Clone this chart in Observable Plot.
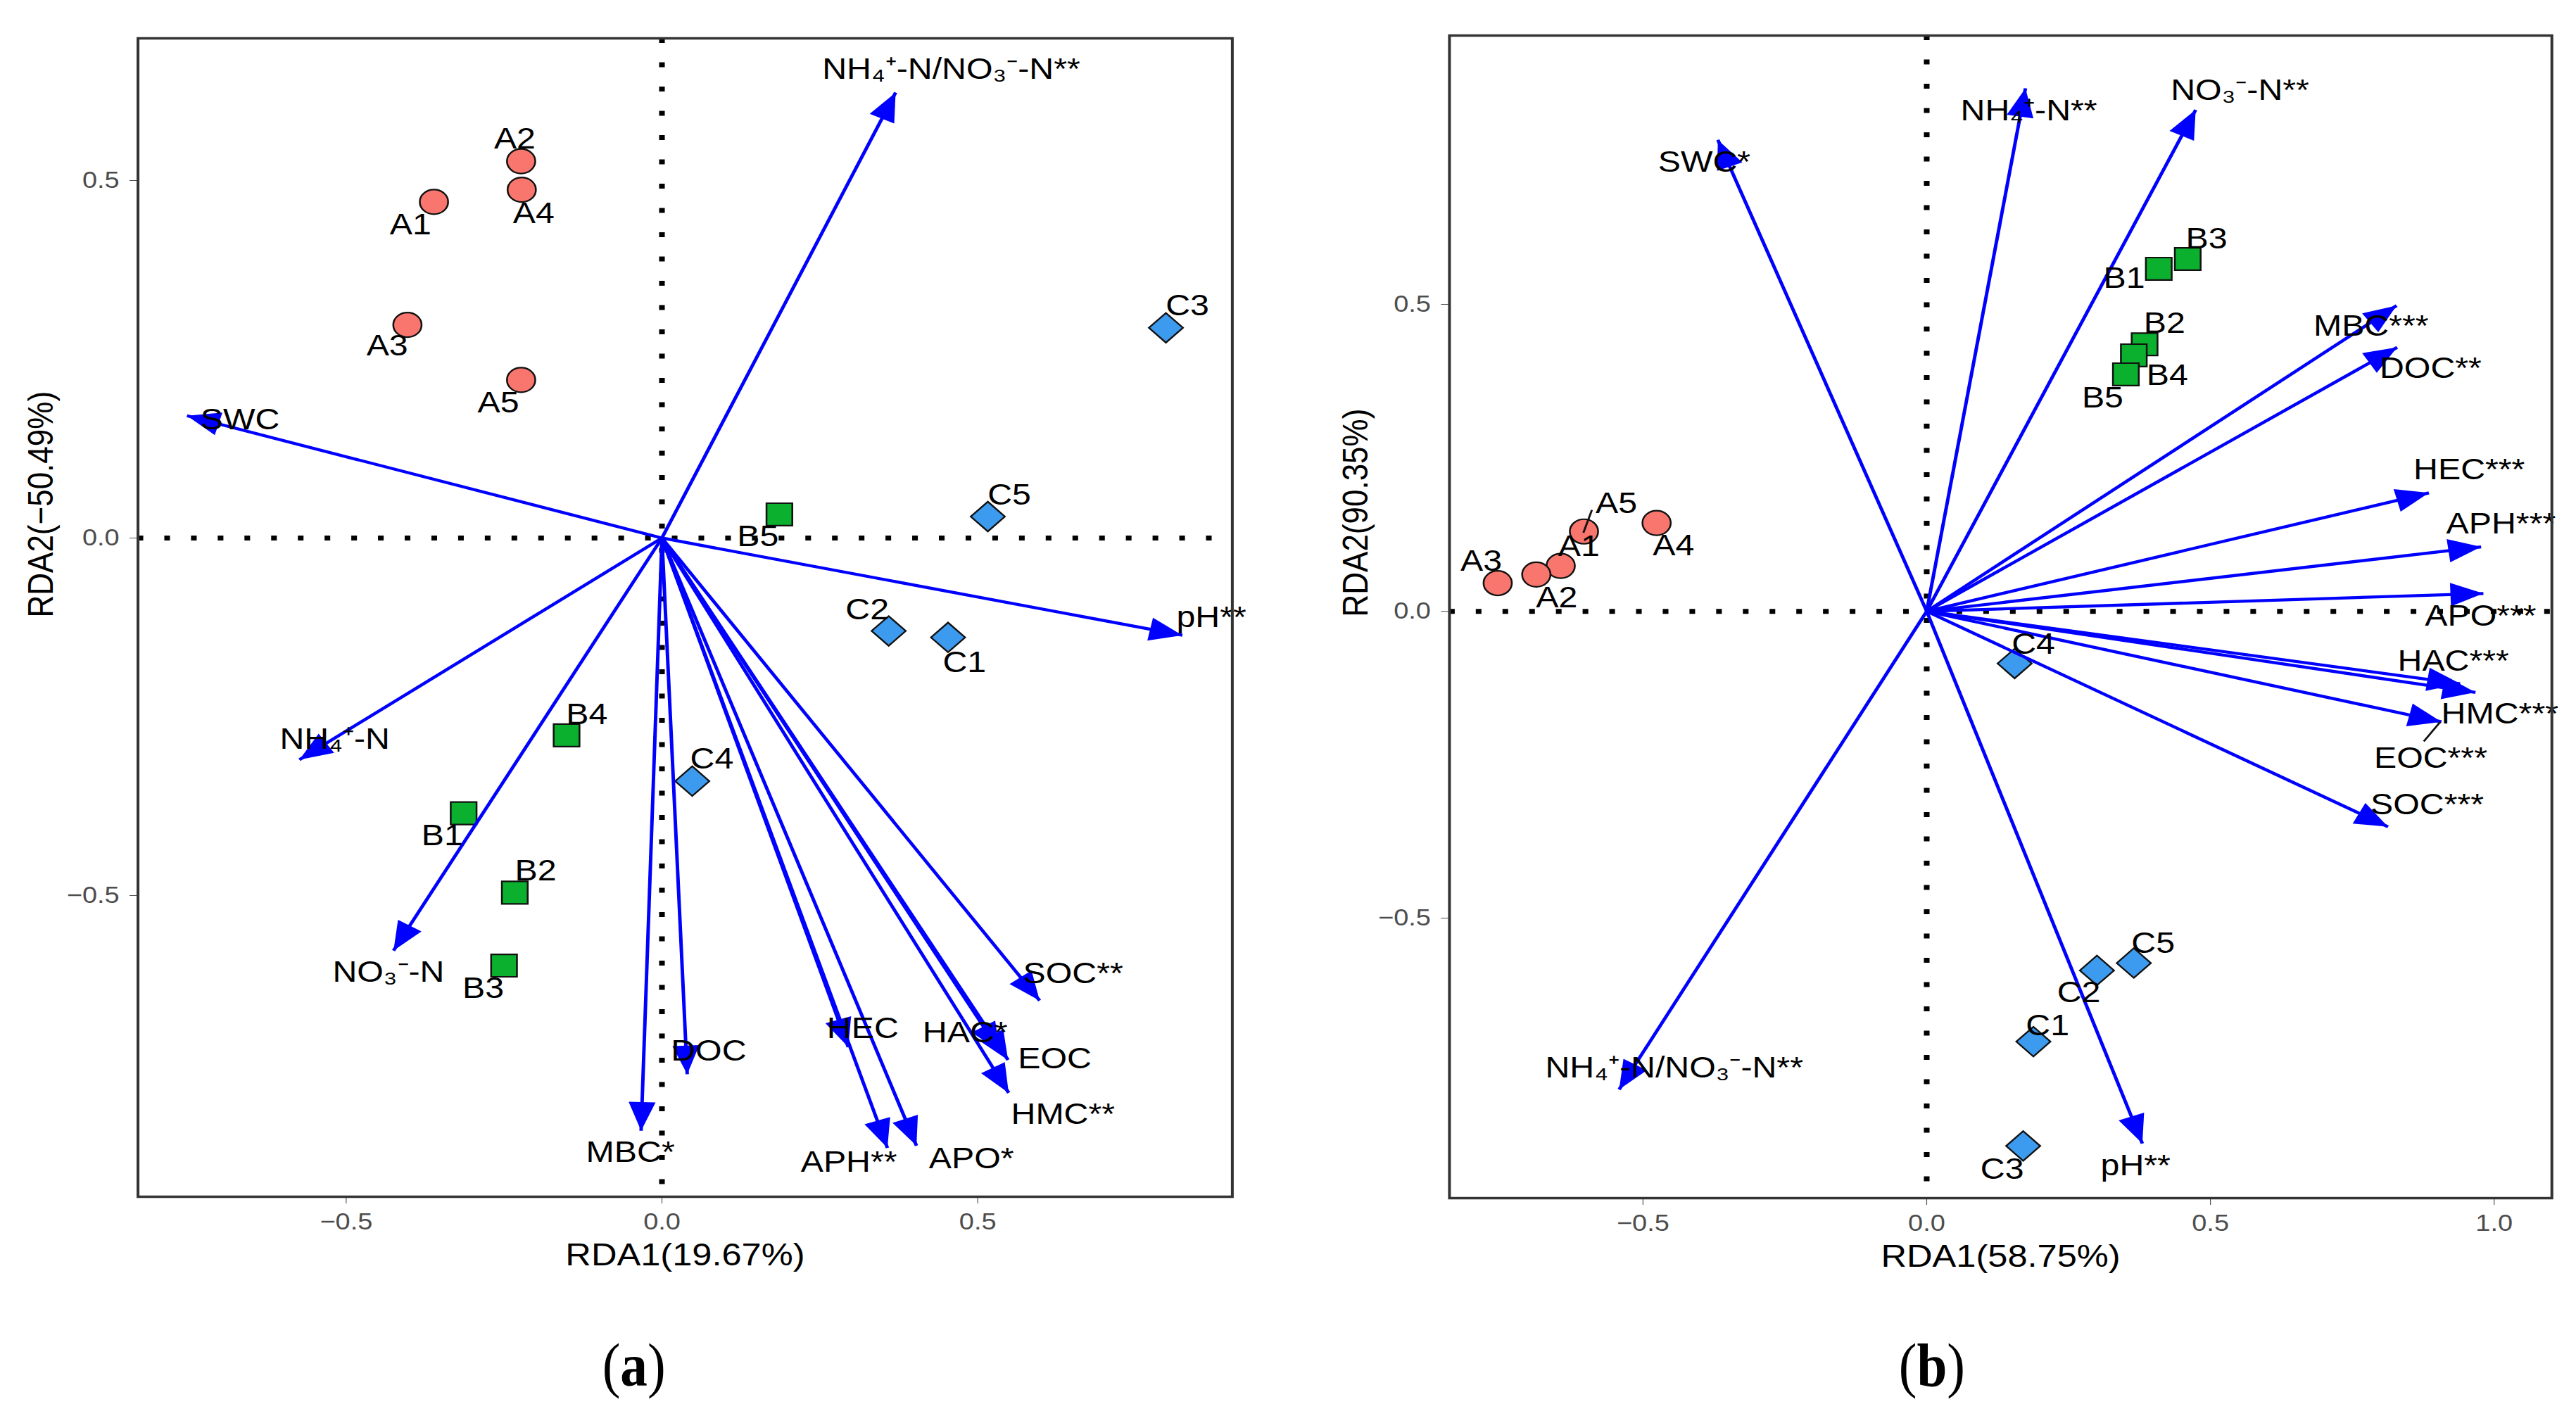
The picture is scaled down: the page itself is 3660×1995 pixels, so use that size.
<!DOCTYPE html>
<html>
<head>
<meta charset="utf-8">
<script src="https://cdn.jsdelivr.net/npm/d3@7"></script>
<script src="https://cdn.jsdelivr.net/npm/@observablehq/plot@0.6"></script>
<style>
html, body { margin: 0; padding: 0; background: #fff; }
#wrap { position: relative; width: 3660px; height: 1995px; overflow: hidden; background: #fff; }
.panel { position: absolute; top: 0; width: 1591px; height: 1995px; transform: scaleX(1.15); transform-origin: 0 0; }
.cap { position: absolute; top: 1897px; width: 300px; text-align: center; font-family: "Liberation Serif", "Times New Roman", serif; font-size: 86px; line-height: 86px; color: #000; }
.cap span { display: inline-block; transform: scaleX(0.78); }
</style>
</head>
<body>
<div id="wrap">
  <div class="panel" id="pa"><div class="cap" style="left:633px"><span>(<b>a</b>)</span></div></div>
  <div class="panel" id="pb" style="left:1830px"><div class="cap" style="left:646px"><span>(<b>b</b>)</span></div></div>
</div>
<script>
// ---------------- Panel (a) data ----------------
const sitesA = ["A1","A2","A3","A4","A5","B1","B2","B3","B4","B5","C1","C2","C3","C4","C5"];
const rda1A  = [-0.361,-0.223,-0.403,-0.222,-0.223,-0.314,-0.233,-0.250,-0.151,0.186,0.453,0.359,0.798,0.048,0.516];
const rda2A  = [0.470,0.527,0.298,0.487,0.221,-0.385,-0.496,-0.598,-0.276,0.033,-0.139,-0.130,0.294,-0.340,0.030];
const siteLabX_A = [-0.398,-0.233,-0.435,-0.203,-0.259,-0.348,-0.200,-0.283,-0.119,0.152,0.479,0.325,0.832,0.079,0.550];
const siteLabY_A = [0.438,0.558,0.269,0.454,0.189,-0.416,-0.466,-0.630,-0.247,0.002,-0.174,-0.100,0.325,-0.309,0.060];

const envA  = ["NH₄⁺-N/NO₃⁻-N**","SWC","pH**","NH₄⁺-N","NO₃⁻-N","MBC*","DOC","HEC","APH**","APO*","HAC*","EOC","HMC**","SOC**"];
const envA1 = [0.370,-0.752,0.824,-0.574,-0.425,-0.033,0.040,0.295,0.357,0.403,0.535,0.548,0.549,0.598];
const envA2 = [0.623,0.171,-0.136,-0.310,-0.577,-0.829,-0.750,-0.712,-0.853,-0.850,-0.718,-0.730,-0.776,-0.647];
const envLabX_A = [0.458,-0.668,0.870,-0.518,-0.433,-0.050,0.074,0.318,0.296,0.490,0.480,0.622,0.635,0.651];
const envLabY_A = [0.655,0.165,-0.111,-0.282,-0.607,-0.859,-0.718,-0.686,-0.873,-0.868,-0.692,-0.728,-0.806,-0.609];

// ---------------- Panel (b) data ----------------
const sitesB = ["A1","A2","A3","A4","A5","B1","B2","B3","B4","B5","C1","C2","C3","C4","C5"];
const rda1B  = [-0.645,-0.688,-0.756,-0.476,-0.604,0.409,0.384,0.460,0.365,0.351,0.188,0.300,0.170,0.155,0.365];
const rda2B  = [0.074,0.060,0.046,0.144,0.130,0.558,0.435,0.574,0.417,0.386,-0.701,-0.585,-0.871,-0.085,-0.573];
const siteLabX_B = [-0.613,-0.652,-0.785,-0.446,-0.547,0.348,0.419,0.493,0.424,0.310,0.213,0.268,0.133,0.188,0.399];
const siteLabY_B = [0.106,0.022,0.081,0.107,0.175,0.542,0.469,0.607,0.384,0.347,-0.675,-0.621,-0.909,-0.054,-0.541];

const envB  = ["SWC*","NH₄⁺-N**","NO₃⁻-N**","MBC***","DOC**","HEC***","APH***","APO***","HAC***","HMC***","EOC***","SOC***","pH**","NH₄⁺-N/NO₃⁻-N**"];
const envB1 = [-0.368,0.174,0.474,0.828,0.829,0.885,0.977,0.981,0.940,0.967,0.907,0.813,0.380,-0.542];
const envB2 = [0.768,0.852,0.817,0.498,0.430,0.193,0.105,0.029,-0.118,-0.132,-0.180,-0.351,-0.867,-0.779];
const envLabX_B = [-0.392,0.180,0.552,0.783,0.888,0.956,1.012,0.976,0.928,1.010,0.888,0.882,0.368,-0.445];
const envLabY_B = [0.731,0.815,0.849,0.464,0.396,0.230,0.142,-0.008,-0.081,-0.167,-0.240,-0.315,-0.903,-0.744];

// label leader segments (ggrepel) in panel (b)
const segB_x1 = [-0.605, 0.876];
const segB_y1 = [0.128, -0.212];
const segB_x2 = [-0.590, 0.905];
const segB_y2 = [0.165, -0.180];

// axis ticks and titles
const ticksXA = [-0.5, 0, 0.5];
const ticksYA = [-0.5, 0, 0.5];
const ticksXB = [-0.5, 0, 0.5, 1.0];
const ticksYB = [-0.5, 0, 0.5];
const titlesA = ["RDA1(19.67%)", "RDA2(−50.49%)"];
const titlesB = ["RDA1(58.75%)", "RDA2(90.35%)"];

// ---------------- drawing ----------------
const FONT = '"Liberation Sans", Arial, Helvetica, sans-serif';
const fmt = d3.format(".1f");
const groupColor = {A: "#F8766D", B: "#0BB02E", C: "#3D9BEF"};
const groupSymbol = {A: "circle", B: "square", C: "diamond2"};
const groupR = {A: 17.5, B: 18, C: 19};

// arrow head symbol: tip at the origin, pointing up (rotated per arrow)
const head = {
  draw(ctx, size) {
    const r = Math.sqrt(size / Math.PI);
    const L = r * 2.2, W = r * 0.9;
    ctx.moveTo(0, 0);
    ctx.lineTo(-W, L);
    ctx.lineTo(W, L);
    ctx.closePath();
  }
};

function panel(cfg) {
  const {W, H, mL, mR, mT, mB, xd, yd, xt, yt, sites, sx, sy, slx, sly, env, ex, ey, elx, ely, seg, titles, yDx} = cfg;
  const kx = (W - mL - mR) / (xd[1] - xd[0]);
  const ky = (H - mT - mB) / (yd[1] - yd[0]);
  const pts = sites.map((s, i) => ({site: s, g: s[0], x: sx[i], y: sy[i], lx: slx[i], ly: sly[i]}));
  const arr = env.map((n, i) => ({name: n, x: ex[i], y: ey[i], lx: elx[i], ly: ely[i],
    rot: Math.atan2(ex[i] * kx, ey[i] * ky) * 180 / Math.PI}));
  const dotMarks = ["A", "B", "C"].map(g => Plot.dot(pts.filter(d => d.g === g), {
    x: "x", y: "y", r: groupR[g], symbol: groupSymbol[g], fill: groupColor[g], stroke: "#111", strokeWidth: 2.2
  }));
  const marks = [
    Plot.ruleY([0], {stroke: "black", strokeWidth: 7, strokeDasharray: "7 26"}),
    Plot.ruleX([0], {stroke: "black", strokeWidth: 7, strokeDasharray: "7 27.5"}),
    ...dotMarks,
    Plot.link(arr, {x1: d => 0, y1: d => 0, x2: "x", y2: "y", stroke: "#0000ff", strokeWidth: 4.3}),
    Plot.dot(arr, {x: "x", y: "y", r: 18.5, symbol: head, rotate: "rot", fill: "#0000ff", stroke: "none"})
  ];
  if (seg) marks.push(Plot.link(seg, {x1: "x1", y1: "y1", x2: "x2", y2: "y2", stroke: "#111", strokeWidth: 2.5}));
  marks.push(
    Plot.text(pts, {x: "lx", y: "ly", text: "site", fontSize: 42, fill: "black", fontFamily: FONT}),
    Plot.text(arr, {x: "lx", y: "ly", text: "name", fontSize: 42, fill: "black", fontFamily: FONT}),
    Plot.frame({stroke: "#333", strokeWidth: 3.5}),
    Plot.text([titles[0]], {frameAnchor: "bottom", dy: 66, lineAnchor: "top", text: d => d, fontSize: 44, fill: "black", fontFamily: FONT}),
    Plot.text([titles[1]], {frameAnchor: "left", dx: yDx, rotate: -90, text: d => d, fontSize: 44, fill: "black", fontFamily: FONT})
  );
  return Plot.plot({
    width: W, height: H,
    marginLeft: mL, marginRight: mR, marginTop: mT, marginBottom: mB,
    x: {domain: xd, ticks: xt, tickFormat: fmt, tickSize: 10, tickPadding: 13, label: null},
    y: {domain: yd, ticks: yt, tickFormat: fmt, tickSize: 10, tickPadding: 13, label: null},
    style: {fontFamily: FONT, fontSize: "33px", color: "#4d4d4d", background: "white", overflow: "visible"},
    marks
  });
}

const plotA = panel({
  W: 1591, H: 1860, mL: 170, mR: 69, mT: 54, mB: 160,
  xd: [-0.8296, 0.9031], yd: [-0.9213, 0.6988], xt: ticksXA, yt: ticksYA,
  sites: sitesA, sx: rda1A, sy: rda2A, slx: siteLabX_A, sly: siteLabY_A,
  env: envA, ex: envA1, ey: envA2, elx: envLabX_A, ely: envLabY_A,
  seg: null, titles: titlesA, yDx: -119
});
const segB = segB_x1.map((v, i) => ({x1: v, y1: segB_y1[i], x2: segB_x2[i], y2: segB_y2[i]}));
const plotB = panel({
  W: 1591, H: 1860, mL: 199, mR: 30, mT: 50, mB: 158,
  xd: [-0.841, 1.1017], yd: [-0.956, 0.938], xt: ticksXB, yt: ticksYB,
  sites: sitesB, sx: rda1B, sy: rda2B, slx: siteLabX_B, sly: siteLabY_B,
  env: envB, ex: envB1, ey: envB2, elx: envLabX_B, ely: envLabY_B,
  seg: segB, titles: titlesB, yDx: -115
});
document.getElementById("pa").prepend(plotA);
document.getElementById("pb").prepend(plotB);
</script>
</body>
</html>
